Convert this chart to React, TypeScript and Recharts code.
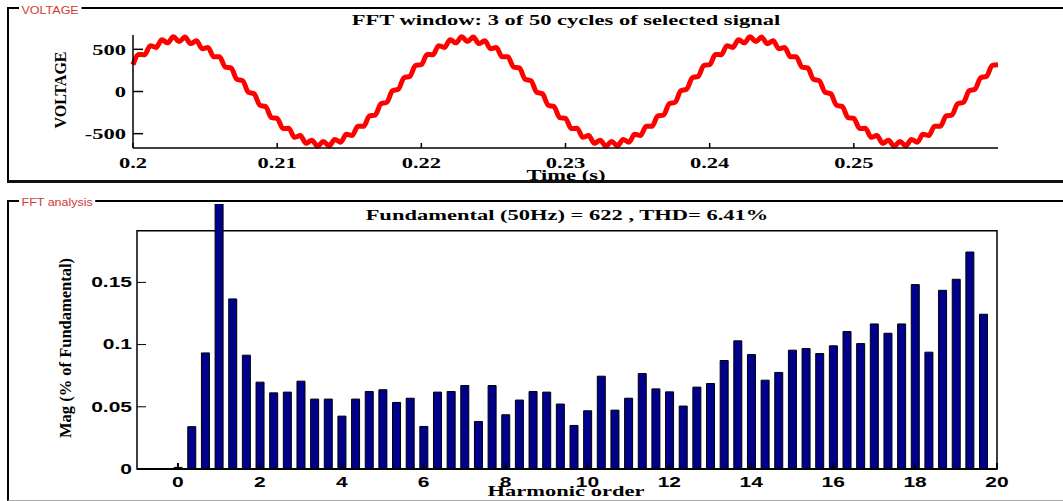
import React from "react";
import { LineChart, Line, BarChart, Bar, XAxis, YAxis, ReferenceArea } from "recharts";

// voltage samples, one every 0.4 ms from t = 0.2 s (3 cycles of 50 Hz)
const voltage = [
  318, 440, 435, 543, 523, 615, 577, 649, 592, 645, 568, 602, 507, 523, 411, 413, 289, 279, 146, 129, -8, -26, -164, -179, -310,
  -318, -440, -435, -543, -523, -615, -577, -649, -592, -645, -568, -602, -507, -523, -411, -413, -289, -279, -146, -129, 8, 26, 164, 179, 310,
  318, 440, 435, 543, 523, 615, 577, 649, 592, 645, 568, 602, 507, 523, 411, 413, 289, 279, 146, 129, -8, -26, -164, -179, -310,
  -318, -440, -435, -543, -523, -615, -577, -649, -592, -645, -568, -602, -507, -523, -411, -413, -289, -279, -146, -129, 8, 26, 164, 179, 310,
  318, 440, 435, 543, 523, 615, 577, 649, 592, 645, 568, 602, 507, 523, 411, 413, 289, 279, 146, 129, -8, -26, -164, -179, -310,
  -318, -440, -435, -543, -523, -615, -577, -649, -592, -645, -568, -602, -507, -523, -411, -413, -289, -279, -146, -129, 8, 26, 164, 179, 310,
  318,
];
const T0 = 0.2;
const SAMPLE_STEP = 0.0004;
const timeTicks = [0.2, 0.21, 0.22, 0.23, 0.24, 0.25];
const voltTicks = [-500, 0, 500];

// FFT bins every 1/3 harmonic (3-cycle window), bin at order 1 is the fundamental
const harmonicMag = [
  0.0013, 0.034, 0.0933, 100, 0.1367, 0.0915, 0.0698, 0.0612, 0.0618, 0.0706,
  0.0562, 0.0562, 0.0425, 0.0562, 0.0623, 0.0637, 0.0535, 0.0569, 0.0342, 0.0618,
  0.0623, 0.0671, 0.0382, 0.0671, 0.0436, 0.0554, 0.0623, 0.0618, 0.0522, 0.035,
  0.0468, 0.0746, 0.0473, 0.0569, 0.0767, 0.0644, 0.062, 0.0506, 0.0658, 0.0687,
  0.0872, 0.103, 0.092, 0.0714, 0.0776, 0.0955, 0.0968, 0.0928, 0.099, 0.1105,
  0.1008, 0.1166, 0.1091, 0.1166, 0.1482, 0.0939, 0.1436, 0.1525, 0.1744, 0.1244,
];
const BIN = 1 / 3;
const orderTicks = [0, 2, 4, 6, 8, 10, 12, 14, 16, 18, 20];
const magTicks = [0, 0.05, 0.1, 0.15];

const voltageData = voltage.map((v, i) => ({ t: Number((T0 + i * SAMPLE_STEP).toFixed(4)), v }));
const fftData = harmonicMag.map((mag, i) => ({ order: i * BIN, mag }));

const SERIF = '"Liberation Serif", "Times New Roman", serif';
const SANS = '"Liberation Sans", Arial, sans-serif';

const stretchTick = (family: string, size: number, dy: string) => (props: any) => {
  const { x, y, payload, textAnchor } = props;
  return (
    <text
      transform={`translate(${x},${y}) scale(1.5,1)`}
      textAnchor={textAnchor}
      dy={dy}
      fontFamily={family}
      fontSize={size}
      fontWeight="bold"
      fill="#000"
    >
      {payload.value}
    </text>
  );
};

const Caption = ({ x, y, text, size = 15, rotate = false }: any) => (
  <div
    style={{
      position: "absolute",
      left: x,
      top: y,
      transform: rotate ? "translate(-50%,-50%) rotate(-90deg)" : "translate(-50%,-50%) scaleX(1.5)",
      fontFamily: SERIF,
      fontWeight: "bold",
      fontSize: size,
      lineHeight: 1,
      whiteSpace: "nowrap",
      color: "#000",
    }}
  >
    {text}
  </div>
);

const PanelTag = ({ x, y, text }: any) => (
  <div
    style={{
      position: "absolute",
      left: x,
      top: y,
      transform: "translateY(-50%) scaleX(1.25)",
      transformOrigin: "left center",
      fontFamily: SANS,
      fontSize: 10,
      lineHeight: 1,
      color: "#d03a3a",
      background: "#fff",
      padding: "0 2px",
      whiteSpace: "nowrap",
    }}
  >
    {text}
  </div>
);

export default function App() {
  return (
    <div style={{ position: "absolute", left: 0, top: 0, width: 1063, height: 501, background: "#fff", overflow: "hidden" }}>
      {/* panel frames */}
      <div
        style={{
          position: "absolute", left: 7, top: 7, width: 1056, height: 176, boxSizing: "border-box",
          borderTop: "2px solid #000", borderLeft: "2px solid #000", borderBottom: "3px solid #111",
        }}
      />
      <div
        style={{
          position: "absolute", left: 7, top: 200, width: 1056, height: 301, boxSizing: "border-box",
          borderTop: "2px solid #000", borderLeft: "2px solid #000", borderBottom: "1px solid #aaa",
        }}
      />
      <PanelTag x={19} y={11} text="VOLTAGE" />
      <PanelTag x={19} y={203} text="FFT analysis" />

      <div style={{ position: "absolute", left: 0, top: 0 }}>
        <LineChart width={1063} height={190} data={voltageData} margin={{ top: 35, right: 65, bottom: 12, left: 0 }}>
          <XAxis
            dataKey="t" type="number" domain={[0.2, 0.26]} ticks={timeTicks} height={30}
            tickSize={-5} tickMargin={14} tick={stretchTick(SERIF, 15, "0.71em")} stroke="#000" strokeWidth={1.5}
          />
          <XAxis
            xAxisId="top" orientation="top" dataKey="t" type="number" domain={[0.2, 0.26]} ticks={timeTicks}
            height={0} tickSize={-5} tick={false} stroke="#000" strokeWidth={1.5}
          />
          <YAxis
            type="number" domain={[-670, 670]} ticks={voltTicks} width={133}
            tickSize={-10} tickMargin={17} tick={stretchTick(SERIF, 15, "0.35em")} stroke="#000" strokeWidth={1.5}
          />
          <YAxis
            yAxisId="right" orientation="right" type="number" domain={[-670, 670]} ticks={voltTicks}
            width={0} tickSize={-10} tick={false} stroke="#000" strokeWidth={1.5}
          />
          <Line dataKey="v" type="monotone" stroke="#ff0000" strokeWidth={5} dot={false} isAnimationActive={false} />
        </LineChart>
      </div>

      <div style={{ position: "absolute", left: 0, top: 190 }}>
        <BarChart width={1063} height={311} data={fftData} margin={{ top: 14, right: 66, bottom: 2, left: 0 }} barSize={8}>
          <ReferenceArea x1={-1} x2={20} y1={0} y2={0.1915} fill="none" stroke="#000" strokeWidth={1.5} />
          <XAxis
            dataKey="order" type="number" domain={[-1, 20]} ticks={orderTicks} height={30}
            tickSize={-6} tickMargin={14} tick={stretchTick(SANS, 14, "0.71em")} stroke="#000" strokeWidth={2}
          />
          <XAxis
            xAxisId="top" orientation="top" type="number" domain={[-1, 20]} ticks={orderTicks} height={0}
            tickSize={-32.7} tick={false} axisLine={false} stroke="#000"
            tickLine={{ stroke: "#000", strokeDasharray: "6 60" }}
          />
          <YAxis
            type="number" domain={[0, 0.213]} ticks={magTicks} width={137} allowDataOverflow
            tickSize={-9} tickMargin={14} tick={stretchTick(SANS, 14, "0.35em")} axisLine={false} stroke="#000"
          />
          <YAxis
            yAxisId="right" orientation="right" type="number" domain={[0, 0.213]} ticks={magTicks}
            width={0} tickSize={-10} tick={false} axisLine={false} stroke="#000"
          />
          <Bar dataKey="mag" fill="#00008c" stroke="#000" strokeWidth={1} isAnimationActive={false} />
        </BarChart>
      </div>

      <Caption x={566} y={19.5} text="FFT window: 3 of 50 cycles of selected signal" />
      <Caption x={566} y={174.5} text="Time (s)" />
      <Caption x={61} y={90} text="VOLTAGE" size={16} rotate />
      <Caption x={567} y={214.5} text="Fundamental (50Hz) = 622 , THD= 6.41%" />
      <Caption x={566} y={491} text="Harmonic order" />
      <Caption x={66} y={348} text="Mag (% of Fundamental)" size={16.5} rotate />
    </div>
  );
}
